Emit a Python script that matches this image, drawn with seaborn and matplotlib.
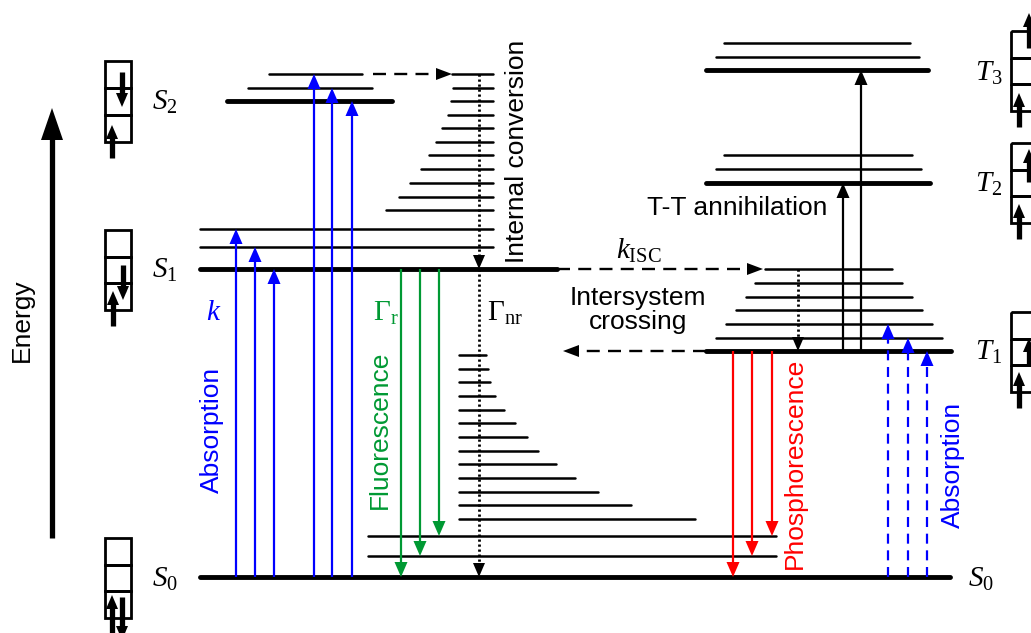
import numpy as np
import pandas as pd
import matplotlib
matplotlib.use("Agg")
import matplotlib.pyplot as plt
import seaborn as sns

# ---------------- data (diagram coordinates, pixel-like units) ----------------
# principal electronic levels: name, energy (y), x-start, x-end
main_names = ["S0", "S1", "S2", "T1", "T2", "T3"]
main_y = [577, 269, 101, 351, 183, 70]
main_x0 = [200, 200, 227, 706, 706, 706]
main_x1 = [950, 557, 392, 951, 930, 928]

# vibrational sub-levels
vib_y = [88, 74, 247, 229, 536, 556, 169, 155, 57, 43]
vib_x0 = [248, 269, 200, 200, 368, 368, 716, 724, 716, 724]
vib_x1 = [372, 362, 493, 493, 776, 776, 921, 912, 919, 910]

# internal conversion ladder (S2 -> S1)
ic_y = [74, 88, 101, 115, 128, 142, 155, 169, 183, 197, 210]
ic_x0 = [452, 453, 451, 448, 442, 436, 429, 421, 410, 399, 386]
ic_x1 = 493

# non-radiative ladder (S1 -> S0)
nr_y = [355, 369, 382, 396, 410, 423, 437, 451, 464, 478, 492, 505, 519]
nr_x0 = 459
nr_x1 = [486, 488, 490, 495, 504, 515, 527, 538, 556, 575, 598, 631, 695]

# T1 ladder
t1_y = [269, 283, 297, 310, 324, 338]
t1_x0 = [765, 755, 746, 736, 726, 716]
t1_x1 = [892, 902, 912, 922, 932, 942]

# transitions
abs_x = [236, 255, 274, 314, 332, 352]
abs_tip = [229, 247, 269, 74, 88, 101]
flu_x = [401, 420, 439]
flu_tip = [577, 556, 536]
pho_x = [733, 752, 772]
pho_tip = [577, 556, 536]
tabs_x = [888, 908, 927]
tabs_tip = [324, 338, 351]
tt_x = [843, 861]
tt_tip = [183, 70]

BLUE = "#0000FF"
GREEN = "#009933"
RED = "#FF0000"

# ---------------- figure ----------------
sns.set_theme(style="white")
plt.rcParams["font.family"] = ["Liberation Sans", "DejaVu Sans"]
plt.rcParams["text.color"] = "black"
plt.rcParams["mathtext.fontset"] = "custom"
plt.rcParams["mathtext.rm"] = "Liberation Serif"
plt.rcParams["mathtext.it"] = "Liberation Serif:italic"

fig = plt.figure(figsize=(10.31, 6.33), dpi=100)
ax = fig.add_axes([0, 0, 1, 1])

THICK = 3.5
THIN = 1.8


def levels_df(ys, x0s, x1s, tag):
    rows = []
    for i, (y, a, b) in enumerate(zip(ys, x0s, x1s)):
        rows.append((f"{tag}{i}", a, y))
        rows.append((f"{tag}{i}", b, y))
    return pd.DataFrame(rows, columns=["lvl", "x", "y"])


thin_df = pd.concat([
    levels_df(vib_y, vib_x0, vib_x1, "v"),
    levels_df(ic_y, ic_x0, [ic_x1] * len(ic_y), "ic"),
    levels_df(nr_y, [nr_x0] * len(nr_y), nr_x1, "nr"),
    levels_df(t1_y, t1_x0, t1_x1, "t"),
])
thick_df = levels_df(main_y, main_x0, main_x1, "m")

sns.lineplot(data=thin_df, x="x", y="y", units="lvl", estimator=None,
             sort=False, color="black", lw=THIN, ax=ax, legend=False, zorder=2)
sns.lineplot(data=thick_df, x="x", y="y", units="lvl", estimator=None,
             sort=False, color="black", lw=THICK, ax=ax, legend=False, zorder=2)


def arrow(x0, y0, x1, y1, color="black", lw=1.6, ls="-", hw=13, hl=15, z=3):
    d = np.array([x1 - x0, y1 - y0], float)
    L = np.hypot(*d)
    u = d / L
    n = np.array([-u[1], u[0]])
    tip = np.array([x1, y1], float)
    base = tip - hl * u
    shaft_end = tip - (hl * 0.6) * u
    ax.plot([x0, shaft_end[0]], [y0, shaft_end[1]], color=color, lw=lw, ls=ls,
            zorder=z, solid_capstyle="butt", dash_capstyle="butt")
    p1 = base + n * hw / 2
    p2 = base - n * hw / 2
    ax.fill([tip[0], p1[0], p2[0]], [tip[1], p1[1], p2[1]], color=color,
            lw=0, zorder=z)


S0y, S1y, S2y, T1y = main_y[0], main_y[1], main_y[2], main_y[3]

for x, t in zip(abs_x, abs_tip):
    arrow(x, S0y, x, t, BLUE)
for x, t in zip(flu_x, flu_tip):
    arrow(x, S1y, x, t, GREEN)
for x, t in zip(pho_x, pho_tip):
    arrow(x, T1y, x, t, RED)
for x, t in zip(tabs_x, tabs_tip):
    arrow(x, S0y, x, t, BLUE, ls=(0, (4.5, 3)))
for x, t in zip(tt_x, tt_tip):
    arrow(x, T1y, x, t, "black")

DOT = (0, (0.8, 1.0))
arrow(479, ic_y[0], 479, S1y, "black", lw=2.0, ls=DOT, hw=12, hl=14)
arrow(479, S1y, 479, S0y, "black", lw=2.0, ls=DOT, hw=12, hl=14)
arrow(798, t1_y[0], 798, T1y, "black", lw=2.0, ls=DOT, hw=12, hl=14)

DASH = (0, (5.5, 3.5))
arrow(373, ic_y[0], 452, ic_y[0], "black", ls=DASH, lw=1.7, hw=12, hl=16)
arrow(557, S1y, 763, S1y, "black", ls=DASH, lw=1.7, hw=12, hl=16)
arrow(706, T1y, 563, T1y, "black", ls=DASH, lw=1.7, hw=12, hl=16)

# energy axis arrow
arrow(52, 538, 52, 108, "black", lw=3.8, hw=22, hl=32)


# electron-occupation boxes
def box(x, y, w=26, h=27):
    for k in range(3):
        ax.add_patch(plt.Rectangle((x, y + k * h), w, h, fill=False,
                                   ec="black", lw=2.0, zorder=4))


SPIN = dict(color="black", lw=3.8, hw=12, hl=14, z=5)
box(105, 61)
arrow(122, 72, 122, 107, **SPIN)
arrow(112, 158, 112, 125, **SPIN)
box(105, 230, h=26.5)
arrow(123, 265, 123, 300, **SPIN)
arrow(113, 326, 113, 291, **SPIN)
box(105, 538, h=26.5)
arrow(112, 640, 112, 595, **SPIN)
arrow(122, 597, 122, 640, **SPIN)

box(1011, 31, h=26.5)
arrow(1019, 127, 1019, 93, **SPIN)
arrow(1029, 48, 1029, 13, **SPIN)
box(1011, 143, h=26.5)
arrow(1019, 239, 1019, 204, **SPIN)
arrow(1029, 182, 1029, 149, **SPIN)
box(1011, 312, h=26.5)
arrow(1019, 408, 1019, 372, **SPIN)
arrow(1029, 365, 1029, 338, **SPIN)

# ---------------- text ----------------
SANS = 19
SER = 21
K = "black"
ax.text(22, 320, "Energy", rotation=90, ha="center", va="center", fontsize=SANS, color=K)
ax.text(517, 151, "Internal conversion", rotation=90, ha="center", va="center", fontsize=SANS, color=K)
ax.text(212, 430, "Absorption", rotation=90, ha="center", va="center", fontsize=SANS, color=BLUE)
ax.text(380, 430, "Fluorescence", rotation=90, ha="center", va="center", fontsize=SANS, color=GREEN)
ax.text(795, 463, "Phosphorescence", rotation=90, ha="center", va="center", fontsize=SANS, color=RED)
ax.text(953, 465, "Absorption", rotation=90, ha="center", va="center", fontsize=SANS, color=BLUE)
ax.text(737, 208, "T-T annihilation", ha="center", va="center", fontsize=SANS, color=K)
ax.text(638, 310, "Intersystem\ncrossing", ha="center", va="center", fontsize=SANS,
        linespacing=1.05, color=K)

serif_labels = [
    (152, 110, r"$S_2$", K),
    (152, 278, r"$S_1$", K),
    (152, 587, r"$S_0$", K),
    (968, 587, r"$S_0$", K),
    (975, 81, r"$T_3$", K),
    (975, 192, r"$T_2$", K),
    (975, 360, r"$T_1$", K),
    (206, 320, r"$k$", BLUE),
    (373, 321, r"$\Gamma_\mathrm{r}$", GREEN),
    (487, 321, r"$\Gamma_\mathrm{nr}$", K),
    (616, 259, r"$k_\mathrm{ISC}$", K),
]
for x, y, s, c in serif_labels:
    ax.text(x, y, s, ha="left", va="baseline", fontsize=SER, color=c)

ax.set_xlim(0, 1031)
ax.set_ylim(633, 0)
ax.set_xlabel("")
ax.set_ylabel("")
ax.axis("off")

fig.savefig("out.png", dpi=100)
